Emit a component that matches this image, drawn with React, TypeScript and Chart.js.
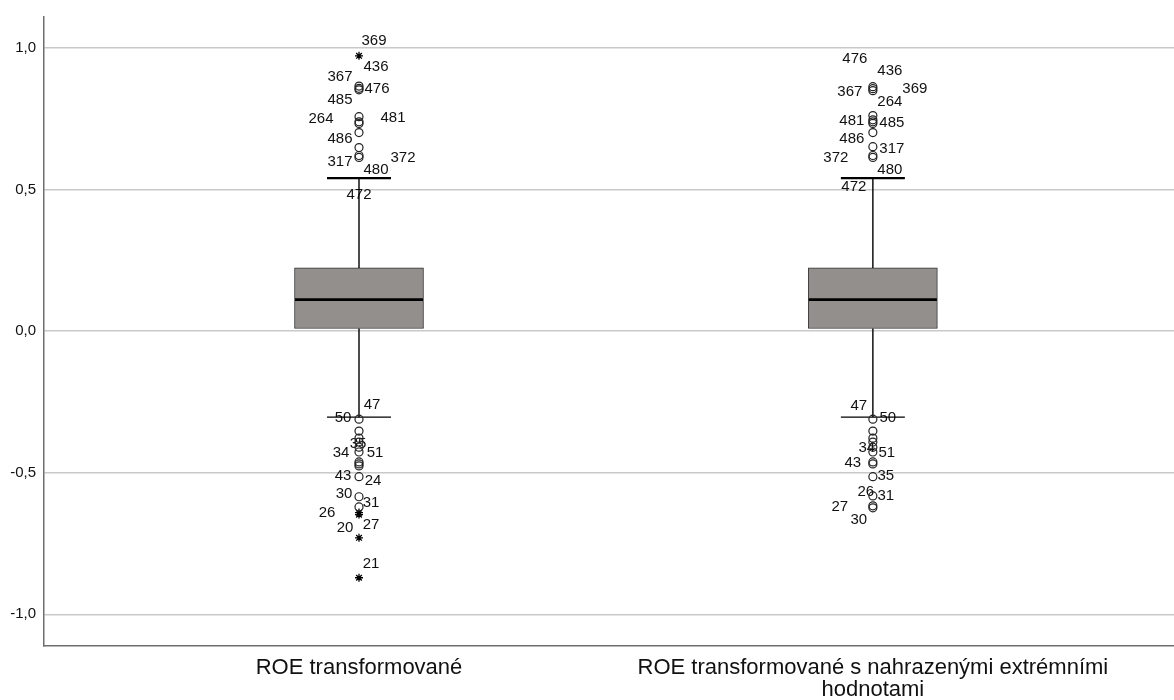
import React, { useEffect, useRef } from 'react';
import { Chart, registerables } from 'chart.js';

Chart.register(...registerables);

// ---------- data ----------
const categoryLabels: string[][] = [
  ['ROE transformované'],
  ['ROE transformované s nahrazenými extrémními', 'hodnotami'],
];
const groupPositions = [1, 2];
const q1Values = [0.009, 0.009];
const medianValues = [0.111, 0.111];
const q3Values = [0.223, 0.223];
const whiskerLowValues = [-0.304, -0.304];
const whiskerHighValues = [0.54, 0.54];

const outliersGroup1 = [
  0.865, 0.857, 0.852, 0.757, 0.739, 0.733, 0.701, 0.648, 0.62, 0.613,
  -0.311, -0.353, -0.378, -0.392, -0.41, -0.427, -0.462, -0.469, -0.476, -0.514, -0.585, -0.621,
];
const extremesGroup1 = [0.972, -0.641, -0.648, -0.73, -0.871];
const outliersGroup2 = [
  0.863, 0.856, 0.849, 0.761, 0.746, 0.739, 0.733, 0.701, 0.651, 0.62, 0.613,
  -0.311, -0.353, -0.378, -0.392, -0.41, -0.427, -0.462, -0.469, -0.514, -0.582, -0.617, -0.624,
];
const extremesGroup2: number[] = [];

const caseIdsGroup1 = [
  '369', '436', '367', '476', '485', '264', '481', '486', '317', '372', '480', '472',
  '47', '50', '35', '34', '51', '43', '24', '30', '31', '26', '20', '27', '21',
];
const caseValuesGroup1 = [
  1.025, 0.933, 0.898, 0.856, 0.817, 0.75, 0.754, 0.677, 0.599, 0.613, 0.568, 0.48,
  -0.26, -0.305, -0.4, -0.429, -0.429, -0.511, -0.529, -0.575, -0.606, -0.641, -0.694, -0.685, -0.822,
];
const caseIdsGroup2 = [
  '476', '436', '367', '369', '264', '481', '485', '486', '317', '372', '480', '472',
  '47', '50', '34', '51', '43', '35', '26', '31', '27', '30',
];
const caseValuesGroup2 = [
  0.961, 0.919, 0.845, 0.856, 0.81, 0.743, 0.736, 0.677, 0.645, 0.61, 0.568, 0.508,
  -0.265, -0.305, -0.413, -0.429, -0.466, -0.511, -0.568, -0.582, -0.62, -0.666,
];

const yTicks = [-1, -0.5, 0, 0.5, 1];

// ---------- layout (horizontal pixel offsets of case labels) ----------
const caseLabelDxGroup1 = [
  15, 17, -19, 18, -19, -38, 34, -19, -19, 44, 17, 0,
  13, -16, -1, -18, 16, -16, 14, -15, 12, -32, -14, 12, 12,
];
const caseLabelDxGroup2 = [
  -18, 17, -23, 42, 17, -21, 19, -21, 19, -37, 17, -19,
  -14, 15, -6, 14, -20, 13, -7, 13, -33, -14,
];

const FONT = "'Liberation Sans', Arial, sans-serif";

const caseLabelPlugin = {
  id: 'caseLabels',
  beforeDatasetsDraw(chart: any) {
    const { ctx, scales } = chart;
    const xs = scales.x;
    const ys = scales.y;
    ctx.save();
    ctx.font = `15px ${FONT}`;
    ctx.fillStyle = '#111';
    ctx.textAlign = 'center';
    ctx.textBaseline = 'middle';
    const groups = [
      { ids: caseIdsGroup1, vals: caseValuesGroup1, dx: caseLabelDxGroup1, g: groupPositions[0] },
      { ids: caseIdsGroup2, vals: caseValuesGroup2, dx: caseLabelDxGroup2, g: groupPositions[1] },
    ];
    groups.forEach(({ ids, vals, dx, g }) => {
      const cx = xs.getPixelForValue(g);
      ids.forEach((id, i) => {
        ctx.fillText(id, cx + dx[i], ys.getPixelForValue(vals[i]));
      });
    });
    ctx.restore();
  },
};

export default function App() {
  const canvasRef = useRef<HTMLCanvasElement | null>(null);

  useEffect(() => {
    document.body.style.margin = '0';
    const canvas = canvasRef.current;
    if (!canvas) return;

    const whiskerData: any[] = [];
    groupPositions.forEach((x, i) => {
      whiskerData.push({ x, y: whiskerHighValues[i] });
      whiskerData.push({ x, y: q3Values[i] });
      whiskerData.push({ x, y: null });
      whiskerData.push({ x, y: q1Values[i] });
      whiskerData.push({ x, y: whiskerLowValues[i] });
      whiskerData.push({ x, y: null });
    });

    const chart = new Chart(canvas, {
      type: 'scatter',
      data: {
        datasets: [
          {
            type: 'bar',
            label: 'box',
            data: groupPositions.map((x, i) => ({ x, y: [q1Values[i], q3Values[i]] })) as any,
            backgroundColor: '#938f8d',
            borderColor: '#333',
            borderWidth: 1,
            borderSkipped: false,
            barThickness: 129,
            order: 10,
          } as any,
          {
            type: 'line',
            label: 'whiskers',
            data: whiskerData,
            borderColor: '#000',
            borderWidth: 1.4,
            pointRadius: 0,
            spanGaps: false,
            fill: false,
            order: 5,
          } as any,
          {
            type: 'scatter',
            label: 'median',
            data: groupPositions.map((x, i) => ({ x, y: medianValues[i] })),
            pointStyle: 'line',
            pointRadius: 64,
            pointBorderWidth: 2.6,
            pointBorderColor: '#000',
            order: 1,
          } as any,
          {
            type: 'scatter',
            label: 'upper cap',
            data: groupPositions.map((x, i) => ({ x, y: whiskerHighValues[i] })),
            pointStyle: 'line',
            pointRadius: 32,
            pointBorderWidth: 2.2,
            pointBorderColor: '#000',
            order: 2,
          } as any,
          {
            type: 'scatter',
            label: 'lower cap',
            data: groupPositions.map((x, i) => ({ x, y: whiskerLowValues[i] })),
            pointStyle: 'line',
            pointRadius: 32,
            pointBorderWidth: 1.4,
            pointBorderColor: '#000',
            order: 2,
          } as any,
          {
            type: 'scatter',
            label: 'outliers',
            data: [
              ...outliersGroup1.map((y) => ({ x: groupPositions[0], y })),
              ...outliersGroup2.map((y) => ({ x: groupPositions[1], y })),
            ],
            pointStyle: 'circle',
            pointRadius: 4,
            pointBorderWidth: 1.2,
            pointBorderColor: '#222',
            pointBackgroundColor: 'rgba(0,0,0,0)',
            order: 0,
          } as any,
          {
            type: 'scatter',
            label: 'extremes',
            data: [
              ...extremesGroup1.map((y) => ({ x: groupPositions[0], y })),
              ...extremesGroup2.map((y) => ({ x: groupPositions[1], y })),
            ],
            pointStyle: 'star',
            pointRadius: 4,
            pointBorderWidth: 1.3,
            pointBorderColor: '#000',
            pointBackgroundColor: '#000',
            order: 0,
          } as any,
        ],
      },
      options: {
        responsive: false,
        maintainAspectRatio: false,
        animation: false,
        events: [],
        layout: { autoPadding: false, padding: { top: 14, left: 0, right: 0, bottom: 0 } },
        plugins: {
          legend: { display: false },
          tooltip: { enabled: false },
          title: { display: false },
        },
        scales: {
          x: {
            type: 'linear',
            min: 0.387,
            max: 2.586,
            offset: false,
            grid: { display: false, drawTicks: false },
            border: { display: true, color: '#6e6e6e', width: 1.5 },
            afterBuildTicks: (scale: any) => {
              scale.ticks = groupPositions.map((v) => ({ value: v }));
            },
            afterFit: (scale: any) => {
              scale.height = 54;
            },
            ticks: {
              autoSkip: false,
              maxRotation: 0,
              minRotation: 0,
              padding: 11,
              color: '#111',
              font: { family: FONT, size: 22, lineHeight: 1.0 },
              callback: (v: any) => {
                const idx = groupPositions.indexOf(Number(v));
                return idx >= 0 ? categoryLabels[idx] : '';
              },
            },
          },
          y: {
            type: 'linear',
            min: -1.112,
            max: 1.109,
            grid: { color: '#c9c9c9', lineWidth: 1.5, drawTicks: false },
            border: { display: true, color: '#6e6e6e', width: 1.5 },
            afterBuildTicks: (scale: any) => {
              scale.ticks = yTicks.map((v) => ({ value: v }));
            },
            afterFit: (scale: any) => {
              scale.width = 44;
            },
            ticks: {
              padding: 8,
              color: '#111',
              font: { family: FONT, size: 15 },
              callback: (v: any) => Number(v).toFixed(1).replace('.', ','),
            },
          },
        },
      } as any,
      plugins: [caseLabelPlugin],
    });

    return () => {
      chart.destroy();
    };
  }, []);

  return (
    <div style={{ width: 1174, height: 700 }}>
      <canvas ref={canvasRef} width={1174} height={700} style={{ display: 'block' }} />
    </div>
  );
}
